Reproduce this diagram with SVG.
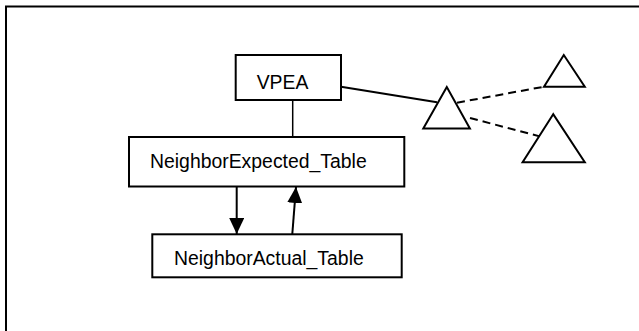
<svg xmlns="http://www.w3.org/2000/svg" width="639" height="331" viewBox="0 0 639 331">
  <style>
    .box { fill: #fff; stroke: #000; stroke-width: 2; }
    .tri { fill: #fff; stroke: #000; stroke-width: 2; stroke-linejoin: miter; }
    .lbl { font-family: "Liberation Sans", Arial, sans-serif; font-size: 19.4px; fill: #000; }
    .solid { stroke: #000; stroke-width: 2; fill: none; }
    .thin { stroke: #000; stroke-width: 1.5; fill: none; }
    .dash { stroke: #000; stroke-width: 2; fill: none; stroke-dasharray: 8 5; }
  </style>
  <defs>
    <marker id="head" viewBox="0 0 16 15" refX="16" refY="7.5" markerWidth="16" markerHeight="15" markerUnits="userSpaceOnUse" orient="auto">
      <path d="M0,0 L16,7.5 L0,15 Z" fill="#000"/>
    </marker>
  </defs>

  <!-- outer frame (top and left edges; the rest runs off the page) -->
  <path d="M6,331 V6.5 H639" fill="none" stroke="#000" stroke-width="2"/>

  <!-- connectors -->
  <g id="connectors">
    <line class="thin" x1="292.7" y1="100" x2="292.7" y2="137"/>
    <line class="solid" x1="341" y1="86.7" x2="437" y2="102.3"/>
    <line class="dash" x1="457" y1="102.7" x2="544" y2="86.7"/>
    <line class="dash" x1="470" y1="118" x2="544" y2="137.5"/>
    <line class="solid" x1="236.7" y1="187" x2="236.7" y2="234" marker-end="url(#head)"/>
    <line class="solid" x1="292.3" y1="234" x2="296" y2="187" marker-end="url(#head)"/>
  </g>

  <g id="vpea">
    <rect class="box" x="235.7" y="55" width="105.3" height="45"/>
    <text class="lbl" x="282.5" y="89" text-anchor="middle">VPEA</text>
  </g>

  <g id="neighbor-expected">
    <rect class="box" x="129" y="137" width="275.3" height="49.5"/>
    <text class="lbl" x="150" y="168.3">NeighborExpected_Table</text>
  </g>

  <g id="neighbor-actual">
    <rect class="box" x="152.3" y="234.3" width="249.4" height="43"/>
    <text class="lbl" x="174" y="265">NeighborActual_Table</text>
  </g>

  <g id="tri-center">
    <polygon class="tri" points="446.8,87 423.3,128.5 469.9,128.5"/>
  </g>
  <g id="tri-upper">
    <polygon class="tri" points="563.8,55 544,86.7 584.8,86.7"/>
  </g>
  <g id="tri-lower">
    <polygon class="tri" points="553.2,114.2 522.6,162.2 584.8,162.2"/>
  </g>
</svg>
